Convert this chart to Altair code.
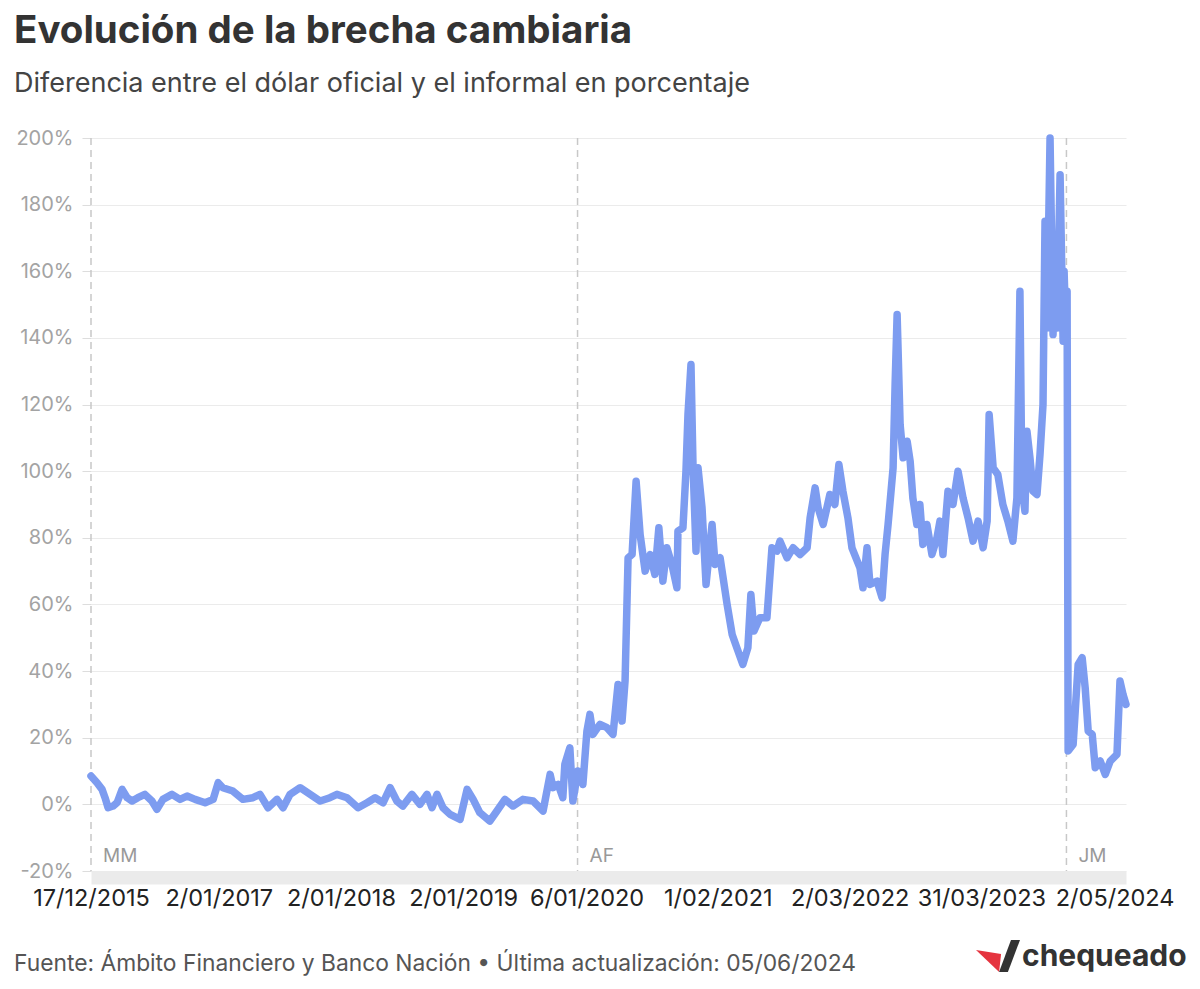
import altair as alt
import pandas as pd

TITLE = "Evolución de la brecha cambiaria"
SUBTITLE = "Diferencia entre el dólar oficial y el informal en porcentaje"
SOURCE = "Fuente: Ámbito Financiero y Banco Nación • Última actualización: 05/06/2024"
BRAND = "chequeado"

dates = [
    "2015-12-17", "2016-01-04", "2016-01-19", "2016-01-28", "2016-02-06", "2016-02-21",
    "2016-03-04", "2016-03-19", "2016-04-03", "2016-04-18", "2016-05-05", "2016-05-26",
    "2016-06-16", "2016-07-01", "2016-07-19", "2016-08-15", "2016-09-08", "2016-09-29",
    "2016-10-23", "2016-11-22", "2016-12-16", "2016-12-31",
    "2017-01-14", "2017-02-13", "2017-03-15", "2017-04-14", "2017-05-05", "2017-05-29",
    "2017-06-25", "2017-07-13", "2017-08-03", "2017-09-02", "2017-10-02", "2017-11-01",
    "2017-11-30", "2017-12-21",
    "2018-01-20", "2018-02-22", "2018-03-21", "2018-04-14", "2018-05-08", "2018-05-29",
    "2018-06-18", "2018-07-06", "2018-08-02", "2018-08-26", "2018-09-16", "2018-10-01",
    "2018-10-16", "2018-11-03", "2018-11-24", "2018-12-24",
    "2019-01-14", "2019-02-01", "2019-02-21", "2019-03-23", "2019-04-13", "2019-05-07",
    "2019-05-31", "2019-06-30", "2019-07-30", "2019-08-29", "2019-09-19", "2019-09-28",
    "2019-10-13", "2019-10-27", "2019-11-02", "2019-11-17", "2019-11-26", "2019-12-11",
    "2019-12-26",
    "2020-01-07", "2020-01-16", "2020-01-25", "2020-02-15", "2020-03-07", "2020-03-25",
    "2020-04-09", "2020-04-21", "2020-04-30", "2020-05-09", "2020-05-21", "2020-06-02",
    "2020-06-14", "2020-06-29", "2020-07-14", "2020-07-28", "2020-08-09", "2020-08-21",
    "2020-09-02", "2020-09-17", "2020-10-02", "2020-10-05", "2020-10-20", "2020-10-29",
    "2020-11-04", "2020-11-13", "2020-11-19", "2020-11-28", "2020-12-04", "2020-12-16",
    "2020-12-28",
    "2021-01-15", "2021-01-24", "2021-02-08", "2021-03-01", "2021-03-16", "2021-03-30",
    "2021-04-17", "2021-05-02", "2021-05-11", "2021-05-20", "2021-06-07", "2021-06-28",
    "2021-07-13", "2021-07-28", "2021-08-06", "2021-08-27", "2021-09-14", "2021-10-05",
    "2021-10-26", "2021-11-04", "2021-11-19", "2021-11-28", "2021-12-13",
    "2022-01-02", "2022-01-17", "2022-01-29", "2022-02-10", "2022-02-25", "2022-03-09",
    "2022-04-02", "2022-04-11", "2022-04-23", "2022-05-02", "2022-05-23", "2022-06-07",
    "2022-06-16", "2022-06-25", "2022-07-10", "2022-07-16", "2022-07-22", "2022-07-31",
    "2022-08-09", "2022-08-21", "2022-08-30", "2022-09-07", "2022-09-19", "2022-09-28",
    "2022-10-07", "2022-10-19", "2022-11-03", "2022-11-18", "2022-11-27", "2022-12-06",
    "2022-12-21",
    "2023-01-05", "2023-01-20", "2023-02-04", "2023-02-19", "2023-03-06", "2023-03-21",
    "2023-04-05", "2023-04-17", "2023-04-23", "2023-05-05", "2023-05-19", "2023-06-03",
    "2023-06-18", "2023-07-03", "2023-07-15", "2023-07-24", "2023-07-30", "2023-08-08",
    "2023-08-14", "2023-08-23", "2023-09-01", "2023-09-13", "2023-09-22", "2023-10-01",
    "2023-10-07", "2023-10-13", "2023-10-22", "2023-10-31", "2023-11-06", "2023-11-12",
    "2023-11-21", "2023-11-30", "2023-12-03", "2023-12-09", "2023-12-12", "2023-12-15",
    "2023-12-30",
    "2024-01-14", "2024-01-26", "2024-02-04", "2024-02-13", "2024-02-25", "2024-03-05",
    "2024-03-20", "2024-04-04", "2024-04-19", "2024-05-09", "2024-05-18", "2024-05-27",
    "2024-06-05",
]

brecha = [
    8.5, 6.5, 4.5, 2, -1, -0.5,
    0.5, 4.5, 2, 1, 2, 3,
    1, -1.5, 1.5, 3, 1.5, 2.5,
    1.5, 0.5, 1.5, 6.5,
    5, 4, 1.5, 2, 3, -1,
    1.5, -1, 3, 5, 3, 1,
    2, 3,
    2, -1, 0.5, 2, 0.5, 5,
    1, -0.5, 3, 0, 3, -1,
    3, -1, -3, -4.5,
    4.5, 1.5, -2.5, -5, -2, 1.5,
    -0.5, 1.5, 1, -2, 9, 5,
    6, 2, 12, 17, 1, 10,
    6,
    22, 27, 21, 24, 23, 21,
    36, 25, 37, 74, 75, 97,
    81, 70, 75, 69, 83, 67,
    77, 72, 65, 82, 83, 100,
    117, 132, 102, 76, 101, 89,
    66,
    84, 72, 74, 60, 51, 47,
    42, 47, 63, 52, 56, 56,
    77, 76, 79, 74, 77, 75,
    77, 86, 95, 89, 84,
    93, 90, 102, 94, 86, 77,
    71, 65, 77, 66, 67, 62,
    75, 84, 101, 126, 147, 114,
    104, 109, 103, 92, 84, 90,
    78, 84, 75, 80, 85, 75,
    94,
    90, 100, 92, 86, 79, 85,
    77, 85, 117, 101, 99, 90,
    85, 79, 92, 154, 95, 88,
    112, 104, 94, 93, 105, 120,
    175, 143, 200, 141, 170, 143,
    189, 139, 160, 140, 154, 16,
    18,
    42, 44, 35, 22, 21, 11,
    13, 9, 13, 15, 37, 33,
    30,
]

event_names = ["MM", "AF", "JM"]
event_dates = ["2015-12-10", "2019-12-10", "2023-12-10"]

tick_dates = ["2015-12-17", "2017-01-02", "2018-01-02", "2019-01-02", "2020-01-06",
              "2021-02-01", "2022-03-02", "2023-03-31", "2024-05-02"]
y_ticks = [-20, 0, 20, 40, 60, 80, 100, 120, 140, 160, 180, 200]

W, H = 1035, 733
FONT = "Inter"


def dt(s):
    y, m, d = (int(p) for p in s.split("-"))
    return alt.DateTime(year=y, month=m, date=d, utc=True)


df = pd.DataFrame({"fecha": dates, "brecha": brecha})
ev = pd.DataFrame({"evento": event_names, "fecha": event_dates})

x_scale = alt.Scale(type="utc", domain=[dt(dates[0]), dt(dates[-1])], clamp=True)
y_scale = alt.Scale(domain=[-20, 200], nice=False, zero=False)

x_axis = alt.Axis(
    values=[dt(s) for s in tick_dates],
    labelExpr="utcFormat(datum.value, '%-d/%m/%Y')",
    title=None, grid=False, ticks=False,
    domainColor="#ebebeb", domainWidth=13, offset=6.5,
    labelPadding=9, labelFontSize=23.5, labelColor="#222222", labelFont=FONT,
    labelOverlap=False, labelBound=False, labelFlush=False,
)
y_axis = alt.Axis(
    values=y_ticks, labelExpr="datum.value + '%'", title=None,
    domain=False, grid=True, gridColor="#ebebeb", gridWidth=1,
    tickColor="#dddddd", tickSize=9, labelPadding=9,
    labelFontSize=20, labelColor="#a3a3a3", labelFont=FONT,
)

X = alt.X("fecha:T", scale=x_scale, axis=x_axis)

line = alt.Chart(df).mark_line(
    color="#7d9cf0", strokeWidth=7.5, strokeCap="round", strokeJoin="round"
).encode(x=X, y=alt.Y("brecha:Q", scale=y_scale, axis=y_axis))

rules = alt.Chart(ev).mark_rule(
    color="#c8c8c8", strokeWidth=1.5, strokeDash=[7, 5]
).encode(x=X, y=alt.value(0), y2=alt.value(H))

ev_text = alt.Chart(ev).mark_text(
    align="left", baseline="alphabetic", dx=12, fontSize=19, color="#999999", font=FONT
).encode(x=X, y=alt.value(724), text="evento:N")


def label(txt, x, y, size, color, weight="normal"):
    return alt.Chart(pd.DataFrame({"t": [txt]})).mark_text(
        align="left", baseline="alphabetic", fontSize=size, fontWeight=weight,
        color=color, font=FONT
    ).encode(x=alt.value(x), y=alt.value(y), text="t:N")


title = label(TITLE, -77, -95, 38.5, "#333333", "bold")
subtitle = label(SUBTITLE, -77, -46, 27, "#444444")
source = label(SOURCE, -77, 833, 22.8, "#555555")
brand = label(BRAND, 931, 828, 30, "#333333", "bold")

logo_red = alt.Chart(pd.DataFrame({"k": ["r"]})).mark_point(
    shape="M -1 -0.27 L 0.14 -0.09 L 0.05 0.73 Z", filled=True, opacity=1,
    color="#e5343f", size=1936, strokeWidth=0
).encode(x=alt.value(907), y=alt.value(818))
logo_dark = alt.Chart(pd.DataFrame({"k": ["d"]})).mark_point(
    shape="M 0.05 0.73 L 0.59 -0.73 L 1 -0.73 L 0.45 0.73 Z", filled=True, opacity=1,
    color="#333333", size=1936, strokeWidth=0
).encode(x=alt.value(907), y=alt.value(818))

chart = alt.layer(
    rules, line, ev_text, title, subtitle, source, brand, logo_red, logo_dark
).properties(
    width=W, height=H,
    autosize=alt.AutoSizeParams(type="none"),
    padding={"left": 91, "top": 138, "right": 74, "bottom": 118},
    background="white",
).configure_view(strokeWidth=0)

chart.save("out.html", embed_options={"renderer": "svg", "actions": False})
